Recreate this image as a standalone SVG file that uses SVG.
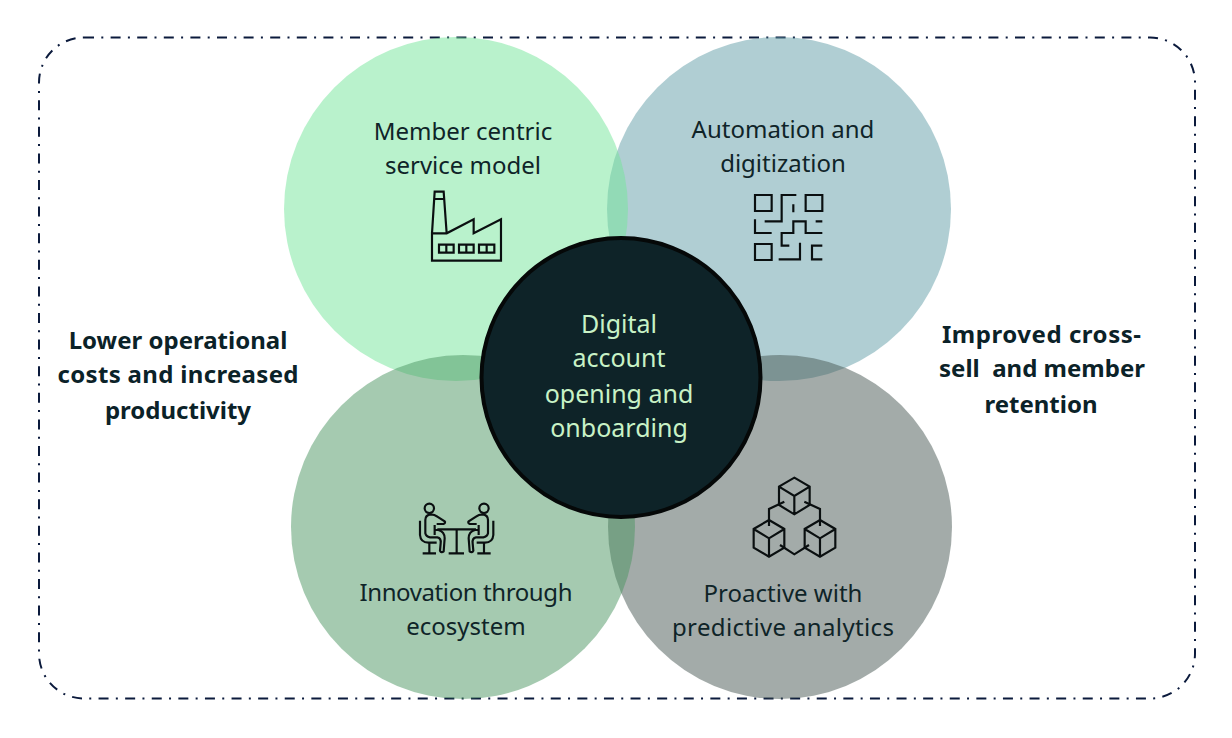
<svg xmlns="http://www.w3.org/2000/svg" width="1232" height="738" viewBox="0 0 1232 738">
<style>
text{font-family:"Noto Sans","Liberation Sans",Arial,sans-serif;text-anchor:middle;fill:#0f2428;font-size:24px;white-space:pre}
.b{font-weight:700;fill:#0b2228}
.c{fill:#c8f2c6;font-size:25px}
.i{fill:none;stroke:#0a0f10;stroke-width:6.500;stroke-linejoin:miter}
</style>
<defs>
<g id="person"><circle cx="88" cy="85" r="14"/><path d="M104 165V135M110 132H130Q138 128 134 124L112 110Q104 103 92 103Q76 105 76 120V160Q78 170 90 172H112Q124 174 122 190L120 212Q124 220 131 214L134 175Q134 155 115 150H104"/><path d="M60 122V165Q62 188 85 188H110M88 188V220M68 220H108"/></g>
</defs>
<rect id="frame" x="39" y="37.500" width="1156" height="661" rx="45" fill="#fff" stroke="#0b1a3c" stroke-width="2" stroke-dasharray="10 7.300 2 7.300"/>
<g id="connectors"/>
<g id="node-automation">
<circle cx="779" cy="209" r="172" fill="#619da7" fill-opacity=".5"/>
</g>
<g id="node-member">
<circle cx="456" cy="209" r="172" fill="#73e599" fill-opacity=".5"/>
</g>
<g id="node-proactive">
<circle cx="780" cy="527" r="172" fill="#475753" fill-opacity=".5"/>
</g>
<g id="node-innovation">
<circle cx="463" cy="527" r="172" fill="#4b9561" fill-opacity=".5"/>
</g>
<g id="label-member">
<text x="463" y="140">Member centric</text><text x="463" y="174">service model</text>
<g class="i" transform="translate(400 170) scale(.3333)"><path d="M96 190H140L221 148V190L303 148V272H96ZM96 190L104 65H131L140 190M102 87H134"/><path d="M117 224H161V248H117ZM139 224V248M177 224H221V248H177ZM199 224V248M237 224H283V248H237ZM260 224V248"/></g>
</g>
<g id="label-automation">
<text x="783" y="138">Automation and</text><text x="783" y="172">digitization</text>
<g class="i" transform="translate(730 170) scale(.3333)"><path d="M75 75H125V123H75ZM227 75H277V123H227ZM75 222H125V270H75ZM199 75H155V154H104M190 103V127M257 154H277M75 148V189H125M178 227H155V189H190V154H227V189H277M146 268H210V218M277 227H246V268H277"/></g>
</g>
<g id="label-innovation">
<text x="466" y="601" textLength="213">Innovation through</text><text x="466" y="635">ecosystem</text>
<g class="i" transform="translate(400 480) scale(.3333)"><use href="#person"/><use href="#person" transform="translate(340 0) scale(-1 1)"/><path d="M112 148H228M170 148V220M146 220H192"/></g>
</g>
<g id="label-proactive">
<text x="783" y="602">Proactive with</text><text x="783" y="636" textLength="222">predictive analytics</text>
<g class="i" transform="translate(735 465) scale(.3333)"><path d="M178 38L224 65V120L178 148L132 120V65ZM132 65L178 93L224 65M178 93V148"/><path d="M102 165L148 192V248L102 275L56 248V192ZM56 192L102 220L148 192M102 220V275"/><path d="M255 165L301 192V248L255 275L209 248V192ZM209 192L255 220L301 192M255 220V275"/><path d="M102 183V132L148 110M208 110L255 132V183M135 240L178 268L222 240"/></g>
</g>
<g id="node-center">
<circle cx="621" cy="377.500" r="139.500" fill="#0e2328" stroke="#050808" stroke-width="4"/>
<text class="c" x="619" y="333">Digital</text><text class="c" x="619" y="367">account</text><text class="c" x="619" y="403">opening and</text><text class="c" x="619" y="437">onboarding</text>
</g>
<g id="note-left"><text class="b" x="178" y="349">Lower operational</text><text class="b" x="178" y="383" textLength="241">costs and increased</text><text class="b" x="178" y="419">productivity</text></g>
<g id="note-right"><text class="b" x="1041.500" y="343" textLength="199">Improved cross-</text><text class="b" x="1042" y="377">sell  and member</text><text class="b" x="1041" y="413">retention</text></g>
</svg>
